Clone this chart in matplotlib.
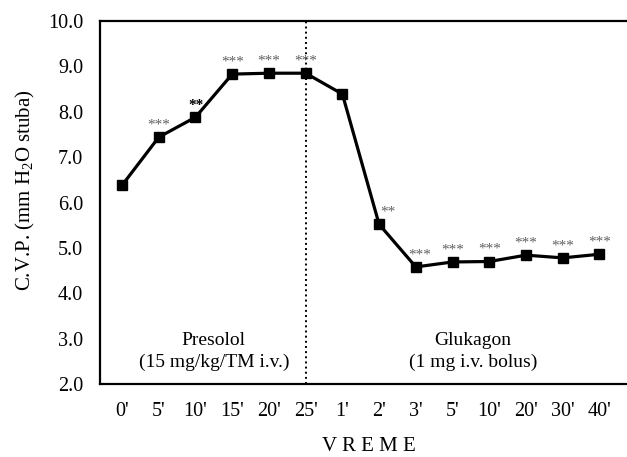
import numpy as np
import matplotlib.pyplot as plt

plt.rcParams['font.family'] = ['Liberation Serif', 'DejaVu Serif']

labels = ["0'", "5'", "10'", "15'", "20'", "25'", "1'", "2'", "3'", "5'", "10'", "20'", "30'", "40'"]
cvp = [6.38, 7.44, 7.88, 8.83, 8.85, 8.85, 8.39, 5.52, 4.58, 4.69, 4.70, 4.84, 4.78, 4.86]
stars = ["", "***", "**", "***", "***", "***", "", "**", "***", "***", "***", "***", "***", "***"]

x = np.arange(len(labels))

fig = plt.figure(figsize=(6.27, 4.57), dpi=100)
ax = fig.add_axes([0.1595, 0.1597, 0.8405, 0.7943])

ax.plot(x, cvp, color='black', lw=2.3, marker='s', ms=7.5, zorder=3)
ax.axvline(5, color='black', ls=':', lw=1.4, zorder=2)

for i, s in enumerate(stars):
    if not s:
        continue
    dx = 0
    if i == 7:
        dx = 6
    elif i == 8:
        dx = 3
    col = 'black' if i == 2 else '#606060'
    ax.annotate(s, (x[i], cvp[i]), xytext=(dx, 4), textcoords='offset points',
                ha='center', va='bottom', fontsize=11, color=col,
                fontweight='bold' if i == 2 else 'normal')

ax.text(2.5, 2.72, "Presolol\n(15 mg/kg/TM i.v.)", ha='center', va='center',
        fontsize=14, linespacing=1.35)
ax.text(9.55, 2.72, "Glukagon\n(1 mg i.v. bolus)", ha='center', va='center',
        fontsize=14, linespacing=1.35)

ax.set_xlim(-0.6, 13.75)
ax.set_ylim(2.0, 10.0)
ax.set_yticks(np.arange(2, 10.1, 1.0))
ax.set_yticklabels([f"{v:.1f}" for v in np.arange(2, 10.1, 1.0)])
ax.set_xticks(x)
ax.set_xticklabels(labels)
ax.tick_params(axis='both', length=0, labelsize=14.5)
ax.tick_params(axis='x', pad=13)
ax.tick_params(axis='y', pad=12)

for side in ['left', 'bottom', 'top']:
    ax.spines[side].set_linewidth(1.6)
ax.spines['right'].set_visible(False)

ax.set_ylabel("C.V.P. (mm H$_\\mathregular{2}$O stuba)", fontsize=15)
ax.yaxis.set_label_coords(-0.12, 0.535)
ax.set_xlabel("V R E M E", fontsize=15)
ax.xaxis.set_label_coords(0.51, -0.145)

fig.savefig("out.png", dpi=100)
